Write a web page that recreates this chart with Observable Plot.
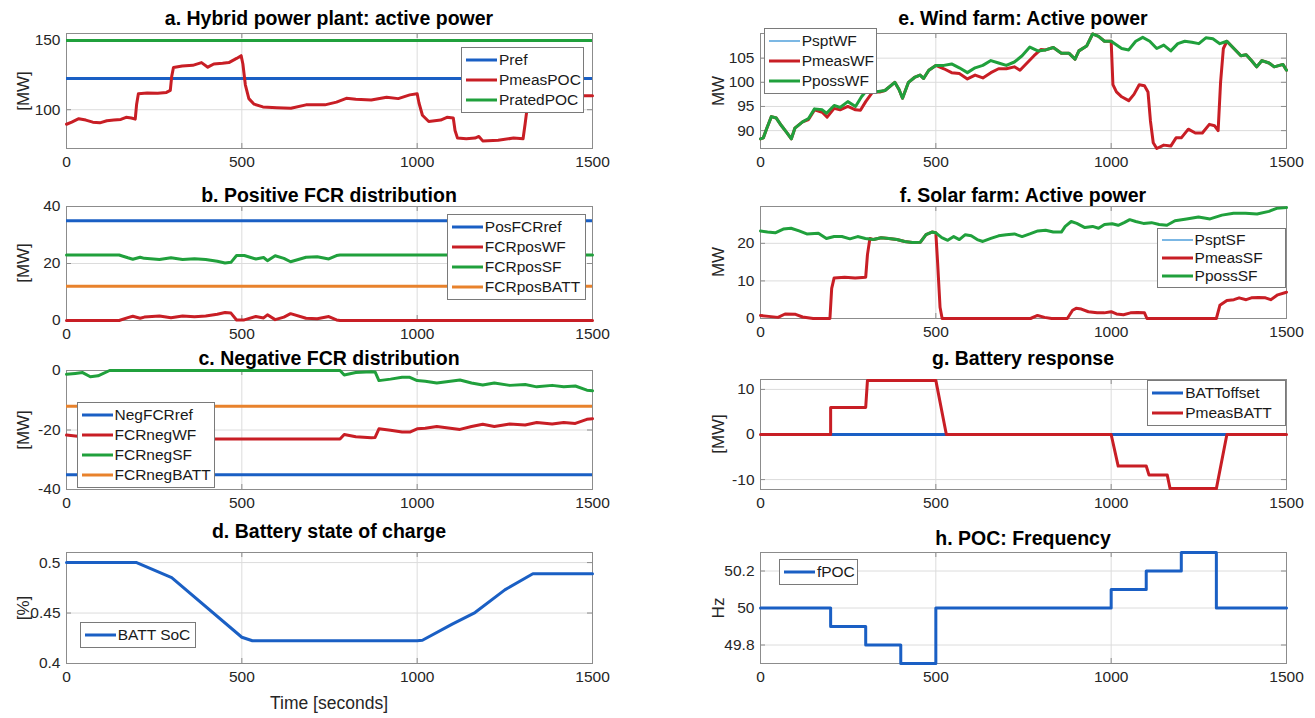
<!DOCTYPE html>
<html><head><meta charset="utf-8">
<script src="https://cdn.jsdelivr.net/npm/d3@7"></script>
<script src="https://cdn.jsdelivr.net/npm/@observablehq/plot@0.6"></script>
<style>
body{margin:0;background:#fff;}
#fig{position:relative;width:1315px;height:718px;overflow:hidden;font-family:"Liberation Sans",Arial,Helvetica,sans-serif;background:#fff;}
.title{position:absolute;font-weight:bold;font-size:19.5px;color:#000;white-space:nowrap;transform:translate(-50%,-50%);}
.ylab{position:absolute;font-size:17px;color:#262626;white-space:nowrap;transform:translate(-50%,-50%) rotate(-90deg);}
.xlab{position:absolute;font-size:17.5px;color:#262626;white-space:nowrap;transform:translate(-50%,-50%);}
.legend{position:absolute;background:#fff;border:1px solid #7a7a7a;box-sizing:border-box;padding:2px 0;}
.legend .row{display:flex;align-items:center;font-size:15.5px;color:#1a1a1a;white-space:nowrap;}
.legend svg{flex:none;}
</style></head><body><div id="fig"></div><script>
// ---------- data ----------
const xTicks = [0, 500, 1000, 1500];

// a. Hybrid power plant
const aPref = 122.5;
const aPratedPOC = 150;
const aPmeasPOC = [[0,89.5],[15,91],[35,93.5],[55,92.5],[75,91],[95,90.5],[115,92],[135,92.5],[155,93],[170,94.5],[185,94],[196,93.2],[200,104],[205,111.5],[230,112],[260,111.8],[285,112.5],[296,114],[300,124],[305,130.5],[330,131.5],[360,132],[385,134],[403,130.7],[420,133],[445,133.5],[463,134],[485,137],[498,139],[503,133],[510,118],[520,108],[535,104],[560,102],[600,101.5],[640,101],[683,103.5],[737,103.5],[770,105.5],[798,108.2],[825,107.5],[869,107],[913,109],[946,108],[979,110.7],[1000,111.5],[1005,105],[1015,96],[1033,91.5],[1067,92.5],[1085,94.5],[1103,94],[1108,85],[1115,79.5],[1140,79],[1165,79.5],[1176,80.7],[1187,77.5],[1231,78],[1275,79.5],[1302,79],[1308,90],[1315,104],[1325,107],[1340,108],[1400,109],[1450,110],[1500,110]];

// b. Positive FCR distribution
const bPosFCRref = 35;
const bFCRposBATT = 12;
const bFCRposWF = [[0,0],[150,0],[175,1],[189,1.5],[210,0.8],[222,1.2],[265,1.6],[298,1],[331,1.6],[365,1.3],[397,1.6],[430,2.2],[452,2.8],[469,2.6],[485,0.2],[507,0.2],[540,1.4],[562,0.9],[573,2],[595,0.3],[620,1.2],[639,2.4],[683,0.8],[715,0.6],[748,1.4],[770,0.2],[780,0],[1500,0]];
const bFCRposSF = [[0,23],[150,23],[175,22],[189,21.5],[210,22.2],[222,21.8],[265,21.4],[298,22],[331,21.4],[365,21.7],[397,21.4],[430,20.8],[452,20.2],[469,20.4],[485,22.8],[507,22.8],[540,21.6],[562,22.1],[573,21],[595,22.7],[620,21.8],[639,20.6],[683,22.2],[715,22.4],[748,21.6],[770,22.8],[780,23],[1500,23]];

// c. Negative FCR distribution
const cNegFCRref = -35;
const cFCRnegBATT = -12;
const cFCRnegSF = [[0,-1.3],[25,-1],[46,-0.7],[68,-2.1],[90,-1.8],[123,0],[780,0],[792,-1.5],[825,-0.7],[869,-0.4],[880,-0.5],[891,-3.4],[924,-2.9],[957,-2.3],[979,-2.3],[1000,-3.4],[1023,-3.6],[1056,-4.2],[1089,-3.7],[1122,-3.2],[1155,-4.2],[1187,-4.9],[1220,-4.2],[1264,-5],[1308,-4.7],[1341,-5.5],[1385,-5],[1418,-5.5],[1451,-5.2],[1484,-6.6],[1500,-6.8]];
const cFCRnegWF = [[0,-21.7],[25,-22],[46,-22.3],[68,-21],[90,-21.2],[123,-23],[780,-23],[792,-21.5],[825,-22.3],[869,-22.6],[880,-22.5],[891,-19.6],[924,-20.1],[957,-20.7],[979,-20.7],[1000,-19.6],[1023,-19.4],[1056,-18.8],[1089,-19.3],[1122,-19.8],[1155,-18.8],[1187,-18.1],[1220,-18.8],[1264,-18],[1308,-18.3],[1341,-17.5],[1385,-18],[1418,-17.5],[1451,-17.8],[1484,-16.4],[1500,-16.2]];

// d. Battery state of charge
const dSoC = [[0,0.5],[200,0.5],[300,0.485],[500,0.426],[530,0.4225],[1000,0.4225],[1015,0.423],[1100,0.439],[1165,0.4505],[1250,0.473],[1330,0.489],[1500,0.489]];

// e. Wind farm
const ePpossWF = [[0,88.3],[8,88.5],[18,90.5],[31,92.9],[45,92.6],[60,91],[75,89.6],[88,88.3],[98,90.5],[120,91.8],[137,92.5],[154,94.5],[176,94.3],[188,93.6],[210,95.2],[227,94.8],[249,96],[271,95],[288,97],[305,98.5],[327,98],[355,98.3],[383,100],[395,98.5],[405,96.7],[422,100],[439,101],[455,101.5],[465,100.8],[480,102.5],[500,103.5],[523,103.5],[545,103.8],[567,103],[590,102],[612,103],[634,103.5],[657,104.5],[679,104],[701,103.5],[724,104.2],[746,105.5],[768,107.3],[791,106.5],[813,106.7],[835,107.2],[858,106],[880,106],[897,104.8],[908,106.5],[930,107.5],[947,110],[964,109.5],[981,108.5],[1000,108.5],[1030,107],[1050,106.7],[1070,108.5],[1090,109.3],[1110,108.5],[1130,107],[1150,107.7],[1170,106.5],[1190,108],[1210,108.5],[1230,108.3],[1250,108],[1270,109.2],[1290,109],[1310,108],[1330,108.5],[1350,107],[1370,105.5],[1385,105.7],[1400,104.5],[1415,103.2],[1430,104.5],[1450,104],[1465,103.2],[1480,103.5],[1490,103.7],[1500,102.5]];
const ePmeasWF = [[0,88.3],[8,88.5],[18,90.5],[31,92.9],[45,92.6],[60,91],[75,89.6],[88,88.3],[98,90.5],[120,91.8],[137,92.3],[154,94.3],[176,93.8],[190,92.8],[210,94.6],[227,94.3],[249,95],[271,94.3],[285,94.2],[300,96],[320,98],[340,98],[355,98.3],[383,100],[395,98.5],[405,96.7],[422,100],[439,101],[455,101.5],[465,100.8],[480,102.5],[500,103.5],[523,102.8],[545,102],[567,101.8],[590,100.7],[612,101.5],[634,100.9],[657,102],[679,102.8],[701,102.8],[724,103.2],[740,102.5],[760,104],[780,105.5],[800,106.8],[813,106.7],[835,107.2],[858,106],[880,106],[897,104.8],[908,106.5],[930,107.5],[947,110],[964,109.5],[981,108.5],[1000,108.5],[1005,99.5],[1015,98],[1030,97],[1050,96.2],[1065,97.5],[1080,99.5],[1095,99.3],[1105,98],[1112,92],[1120,87.5],[1130,86.3],[1150,87],[1170,86.8],[1185,88.5],[1200,88.5],[1220,90.3],[1240,89.5],[1260,89.5],[1280,91.3],[1295,91],[1305,90],[1312,100],[1320,107],[1330,108.5],[1350,107],[1370,105.5],[1385,105.7],[1400,104.5],[1415,103.2],[1430,104.5],[1450,104],[1465,103.2],[1480,103.5],[1490,103.7],[1500,102.5]];

// f. Solar farm
const fPpossSF = [[0,23.3],[20,23],[42,22.8],[65,23.8],[87,24],[110,23.3],[132,22.5],[165,22.7],[188,21.3],[210,21.8],[232,21.8],[255,21.2],[277,21.8],[299,21.3],[322,21],[344,21.5],[366,21.3],[389,21],[411,20.5],[433,20.2],[456,20.3],[472,22.3],[489,23],[500,22.8],[517,21.5],[534,20.8],[551,21.8],[567,21],[584,22.3],[601,22],[618,21],[634,20.5],[657,21.3],[679,22],[701,22.3],[724,22.5],[746,21.8],[768,22.5],[791,23.3],[813,23.5],[835,23],[858,23],[869,24.5],[886,25.8],[902,25.3],[925,24.2],[947,24.5],[964,24],[981,25],[1003,25.2],[1020,24.8],[1037,25.5],[1053,26.3],[1070,25.8],[1092,25.3],[1115,25.5],[1137,25],[1159,24.8],[1182,26],[1215,26.5],[1249,27],[1282,26.5],[1316,27.5],[1349,28],[1383,28],[1416,27.8],[1450,28.5],[1472,29.3],[1500,29.5]];
const fPmeasSF = [[0,0.8],[30,0.5],[50,0.3],[70,1.2],[100,1.1],[120,0.4],[150,0],[198,0],[203,8],[210,10.8],[240,11],[270,10.8],[300,11],[305,17],[312,21.3],[322,21],[344,21.5],[366,21.3],[389,21],[411,20.5],[433,20.2],[456,20.3],[472,22.3],[489,23],[500,22.8],[505,15],[512,3],[518,0],[770,0],[790,0.8],[810,0.3],[830,0],[875,0],[890,2.2],[900,2.7],[915,2.5],[935,1.8],[960,1.5],[980,1.5],[1000,1.8],[1015,1.2],[1035,1],[1055,1.5],[1075,1.6],[1095,1.5],[1102,0],[1300,0],[1310,3.5],[1330,4.8],[1350,5],[1365,5.5],[1385,5],[1400,5.5],[1420,5.6],[1440,5.5],[1455,5],[1475,6.3],[1500,7]];

// g. Battery response
const gBATToffset = 0;
const gPmeasBATT = [[0,0],[200,0],[200,6],[300,6],[305,12],[500,12],[530,0],[1000,0],[1020,-7],[1100,-7],[1108,-9],[1160,-9],[1168,-12],[1300,-12],[1330,0],[1500,0]];

// h. POC frequency
const hFPOC = [[0,50],[200,49.9],[300,49.8],[400,49.7],[500,50],[1000,50.1],[1100,50.2],[1200,50.3],[1300,50],[1500,50]];

// ---------- styling ----------
const FONT = '"Liberation Sans", Arial, Helvetica, sans-serif';
const C = {blue:"#1a5fc4", red:"#c81e25", green:"#20a03c", orange:"#e8822c", lblue:"#5ba6de"};
const LW = 3;
const W = 526;
const COL = [66, 760];
const YLABX = [24, 719];
const ROWS = [
  {top:33, bottom:148, title:18},
  {top:206, bottom:320, title:195},
  {top:370, bottom:489, title:358},
  {top:552, bottom:663, title:531}
];
const fig = document.getElementById("fig");

const line = (data, color, w=LW, curve="linear") =>
  Plot.line(data, {x: d => d[0], y: d => d[1], stroke: color, strokeWidth: w, curve});
const hline = (v, color, w=LW) => Plot.ruleY([v], {stroke: color, strokeWidth: w});

function div(cls, text, x, y) {
  const e = document.createElement("div");
  e.className = cls; e.textContent = text;
  e.style.left = x + "px"; e.style.top = y + "px";
  fig.appendChild(e); return e;
}

function panel(p) {
  const left = COL[p.col], row = ROWS[p.row];
  const top = p.top ?? row.top, bottom = p.bottom ?? row.bottom, h = bottom - top;
  const ml = 50, mr = 14, mt = 10, mb = 30;
  const [y0, y1] = p.yDomain, ry = y1 - y0;
  const tk = "#8c8c8c";
  const chart = Plot.plot({
    width: W + ml + mr, height: h + mt + mb,
    marginLeft: ml, marginRight: mr, marginTop: mt, marginBottom: mb,
    style: {fontFamily: FONT, fontSize: "15.5px", color: "#262626", background: "transparent", overflow: "visible"},
    x: {domain: [0, 1500]},
    y: {domain: p.yDomain},
    marks: [
      Plot.gridX(xTicks.slice(1, -1), {stroke: "#dcdcdc", strokeOpacity: 1}),
      Plot.gridY(p.yTicks, {stroke: "#dcdcdc", strokeOpacity: 1}),
      Plot.frame({stroke: tk}),
      Plot.ruleX(xTicks, {y1: y0, y2: y0 + ry * 5 / h, stroke: tk}),
      Plot.ruleX(xTicks, {y1: y1, y2: y1 - ry * 5 / h, stroke: tk}),
      Plot.ruleY(p.yTicks, {x1: 0, x2: 1500 * 5 / W, stroke: tk}),
      Plot.ruleY(p.yTicks, {x1: 1500, x2: 1500 - 1500 * 5 / W, stroke: tk}),
      Plot.axisX(xTicks, {tickSize: 0, tickPadding: 7, label: null, fontSize: 15.5, tickFormat: d => String(d)}),
      Plot.axisY(p.yTicks, {tickSize: 0, tickPadding: 6, label: null, fontSize: 15.5, tickFormat: d => String(d)}),
      ...p.marks
    ]
  });
  chart.style.position = "absolute";
  chart.style.left = (left - ml) + "px";
  chart.style.top = (top - mt) + "px";
  fig.appendChild(chart);

  div("title", p.title, left + W / 2, p.titleY ?? row.title);
  div("ylab", p.ylabel, YLABX[p.col], (top + bottom) / 2);

  const L = p.legend;
  const lg = document.createElement("div");
  lg.className = "legend";
  lg.style.left = (left + L.l * W) + "px";
  lg.style.width = ((L.r - L.l) * W) + "px";
  lg.style.top = (top + L.t * h) + "px";
  for (const it of L.items) {
    const r = document.createElement("div");
    r.className = "row"; r.style.height = L.rowH + "px";
    r.innerHTML = `<svg width="37" height="8"><line x1="4" y1="4" x2="35" y2="4" stroke="${it.color}" stroke-width="${it.w ?? 3}"/></svg><span>${it.name}</span>`;
    lg.appendChild(r);
  }
  fig.appendChild(lg);
}

// ---------- panels ----------
panel({col:0, row:0, title:"a. Hybrid power plant: active power", ylabel:"[MW]",
  yDomain:[72, 155], yTicks:[100, 150],
  marks:[hline(aPref, C.blue), line(aPmeasPOC, C.red), hline(aPratedPOC, C.green)],
  legend:{l:0.751, r:0.985, t:0.12, rowH:20, items:[
    {name:"Pref", color:C.blue}, {name:"PmeasPOC", color:C.red}, {name:"PratedPOC", color:C.green}]}});

panel({col:0, row:1, title:"b. Positive FCR distribution", ylabel:"[MW]",
  yDomain:[0, 40], yTicks:[0, 20, 40],
  marks:[hline(bPosFCRref, C.blue), line(bFCRposWF, C.red), line(bFCRposSF, C.green), hline(bFCRposBATT, C.orange)],
  legend:{l:0.724, r:0.988, t:0.066, rowH:20, items:[
    {name:"PosFCRref", color:C.blue}, {name:"FCRposWF", color:C.red}, {name:"FCRposSF", color:C.green}, {name:"FCRposBATT", color:C.orange}]}});

panel({col:0, row:2, title:"c. Negative FCR distribution", ylabel:"[MW]",
  yDomain:[-40, 0], yTicks:[-40, -20, 0],
  marks:[hline(cNegFCRref, C.blue), line(cFCRnegWF, C.red), line(cFCRnegSF, C.green), hline(cFCRnegBATT, C.orange)],
  legend:{l:0.02, r:0.283, t:0.27, rowH:20, items:[
    {name:"NegFCRref", color:C.blue}, {name:"FCRnegWF", color:C.red}, {name:"FCRnegSF", color:C.green}, {name:"FCRnegBATT", color:C.orange}]}});

panel({col:0, row:3, title:"d. Battery state of charge", ylabel:"[%]",
  yDomain:[0.4, 0.51], yTicks:[0.4, 0.45, 0.5],
  marks:[line(dSoC, C.blue)],
  legend:{l:0.026, r:0.247, t:0.63, rowH:20, items:[{name:"BATT SoC", color:C.blue}]}});

panel({col:1, row:0, title:"e. Wind farm: Active power", ylabel:"MW",
  yDomain:[86.3, 110.1], yTicks:[90, 95, 100, 105],
  marks:[line(ePmeasWF, C.red), line(ePpossWF, C.green)],
  legend:{l:0.007, r:0.222, t:-0.04, rowH:20, items:[
    {name:"PsptWF", color:C.lblue, w:1.6}, {name:"PmeasWF", color:C.red}, {name:"PpossWF", color:C.green}]}});

panel({col:1, row:1, title:"f. Solar farm: Active power", ylabel:"MW", bottom:318,
  yDomain:[0, 29.8], yTicks:[0, 10, 20],
  marks:[line(fPmeasSF, C.red), line(fPpossSF, C.green)],
  legend:{l:0.754, r:1.0, t:0.2, rowH:18, items:[
    {name:"PsptSF", color:C.lblue, w:1.6}, {name:"PmeasSF", color:C.red}, {name:"PpossSF", color:C.green}]}});

panel({col:1, row:2, title:"g. Battery response", ylabel:"[MW]", top:379,
  yDomain:[-12.2, 12.2], yTicks:[-10, 0, 10],
  marks:[hline(gBATToffset, C.blue), line(gPmeasBATT, C.red)],
  legend:{l:0.736, r:1.0, t:0.01, rowH:20, items:[
    {name:"BATToffset", color:C.blue}, {name:"PmeasBATT", color:C.red}]}});

panel({col:1, row:3, title:"h. POC: Frequency", ylabel:"Hz", titleY:538,
  yDomain:[49.7, 50.3], yTicks:[49.8, 50, 50.2],
  marks:[line(hFPOC, C.blue, LW, "step-after")],
  legend:{l:0.036, r:0.186, t:0.06, rowH:20, items:[{name:"fPOC", color:C.blue}]}});

div("xlab", "Time [seconds]", COL[0] + W / 2, 703);
</script></body></html>
